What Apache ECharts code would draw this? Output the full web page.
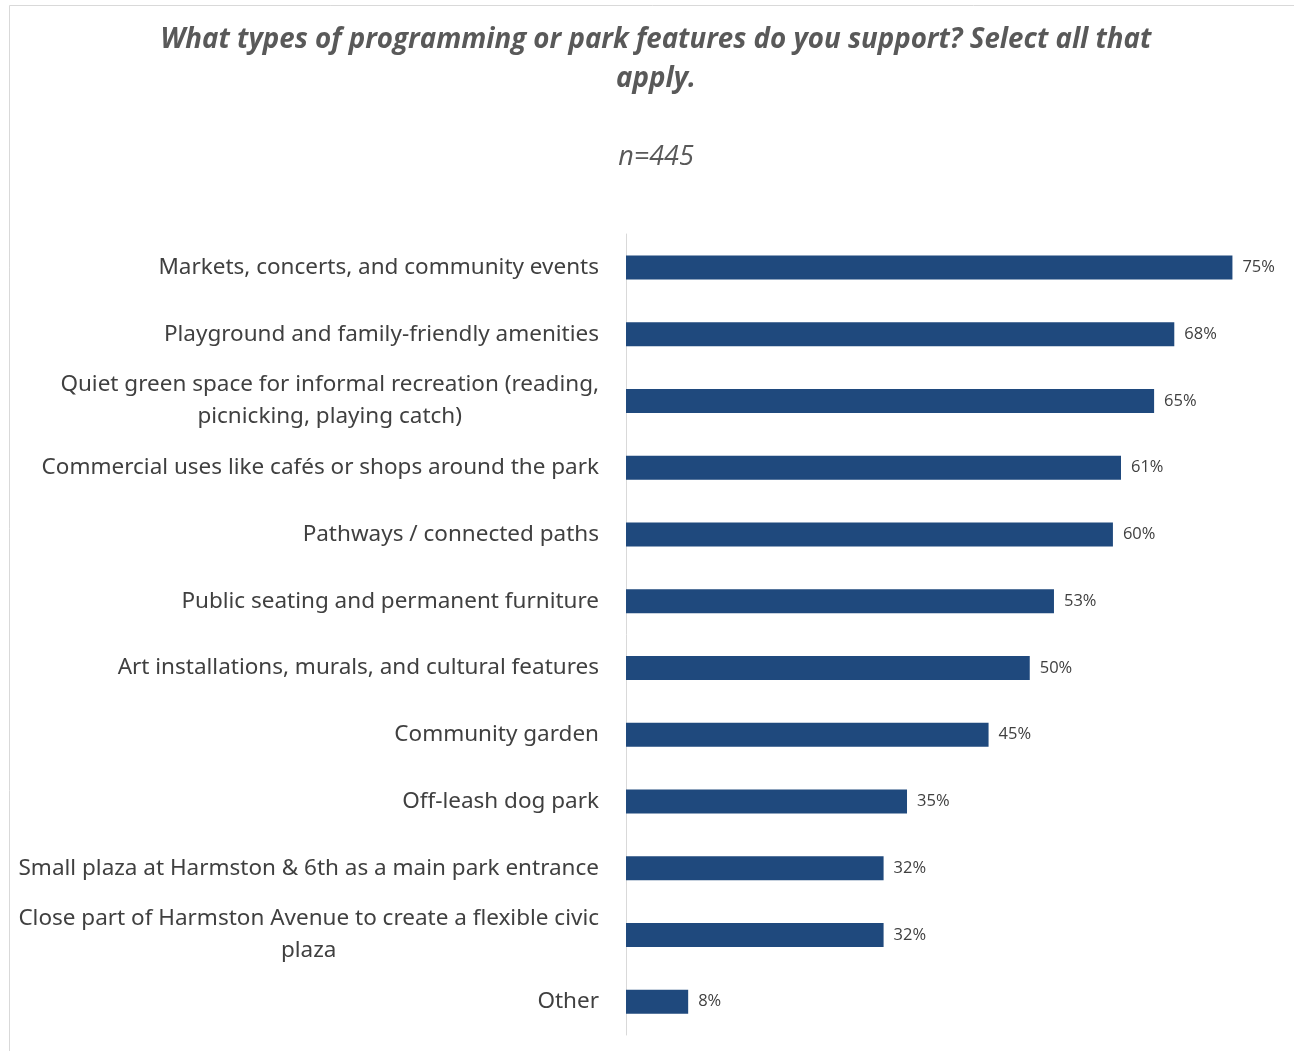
<!DOCTYPE html>
<html>
<head>
<meta charset="utf-8">
<title>Programming and park features</title>
<script src="https://cdn.jsdelivr.net/npm/echarts@6/dist/echarts.min.js"></script>
<style>
  html, body { margin: 0; padding: 0; background: #fff; }
  #chart { width: 1294px; height: 1051px; }
</style>
</head>
<body>
<div id="chart"></div>
<script>
const categories = [
    'Markets, concerts, and community events',
    'Playground and family-friendly amenities',
    'Quiet green space for informal recreation (reading,\npicnicking, playing catch)',
    'Commercial uses like cafés or shops around the park',
    'Pathways / connected paths',
    'Public seating and permanent furniture',
    'Art installations, murals, and cultural features',
    'Community garden',
    'Off-leash dog park',
    'Small plaza at Harmston & 6th as a main park entrance',
    'Close part of Harmston Avenue to create a flexible civic\nplaza',
    'Other',
]
const support = [75.1, 67.9, 65.4, 61.3, 60.3, 53.0, 50.0, 44.9, 34.8, 31.9, 31.9, 7.7]

const titleText = 'What types of programming or park features do you support? Select all that\napply.'
const subtitleText = 'n=445'

const myChart = echarts.init(document.getElementById('chart'), null, { renderer: 'canvas' })

const option = {
    backgroundColor: '#ffffff',
    animation: false,
    graphic: [
        {
            type: 'rect',
            shape: { x: 9.5, y: 5.5, width: 1320, height: 1080 },
            style: { fill: 'none', stroke: '#d9d9d9', lineWidth: 1 },
            silent: true,
        },
    ],
    title: [
        {
            text: titleText,
            left: 651,
            top: 16,
            textAlign: 'center',
            textStyle: {
                fontFamily: 'Open Sans',
                fontSize: 27.7,
                fontWeight: 'bold',
                fontStyle: 'italic',
                color: '#595959',
                lineHeight: 39,
            },
        },
        {
            text: subtitleText,
            left: 651,
            top: 139,
            textAlign: 'center',
            textStyle: {
                fontFamily: 'Open Sans',
                fontSize: 27,
                fontWeight: 'normal',
                fontStyle: 'italic',
                color: '#595959',
            },
        },
    ],
    grid: {
        left: 626,
        top: 234,
        width: 646,
        height: 801,
        containLabel: false,
    },
    xAxis: {
        type: 'value',
        min: 0,
        max: 80,
        show: false,
    },
    yAxis: {
        type: 'category',
        inverse: true,
        data: categories,
        axisLine: {
            show: true,
            lineStyle: { color: '#d9d9d9', width: 1 },
        },
        axisTick: { show: false },
        splitLine: { show: false },
        axisLabel: {
            margin: 27,
            align: 'right',
            fontFamily: 'Noto Sans',
            fontSize: 22.5,
            color: '#404040',
            formatter: function (value) {
                return value.split('\n').map((line) => '{c|' + line + '}').join('\n')
            },
            rich: {
                c: {
                    align: 'center',
                    fontFamily: 'Noto Sans',
                    fontSize: 22.5,
                    color: '#404040',
                    lineHeight: 32,
                },
            },
        },
    },
    series: [
        {
            name: 'Support',
            type: 'bar',
            data: support,
            barWidth: 24,
            itemStyle: { color: '#1f497d' },
            label: {
                show: true,
                position: 'right',
                distance: 10,
                fontFamily: 'Open Sans',
                fontSize: 16.5,
                color: '#404040',
                formatter: function (p) {
                    return Math.round(p.value) + '%'
                },
            },
        },
    ],
}

myChart.setOption(option)
</script>
</body>
</html>
